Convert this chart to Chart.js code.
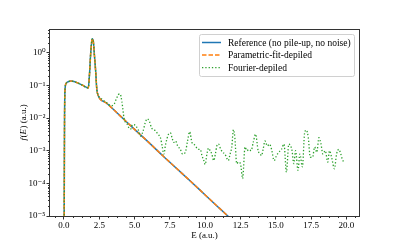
<!DOCTYPE html>
<html lang="en">
<head>
<meta charset="UTF-8" />
<title>Depiled spectrum f(E)</title>
<script src="https://cdn.jsdelivr.net/npm/chart.js"></script>
<style>
    * { margin: 0; padding: 0; box-sizing: border-box; }
    body { background: #fff; }
    .wrap { width: 399px; height: 247px; }
</style>
</head>
<body>
<div class="wrap"><canvas id="spectrum" width="399" height="247"></canvas></div>
<script>
// Reference spectrum (no pile-up, no noise)
const refE = [0.0, 0.04, 0.08, 0.15, 0.3, 0.5, 0.7, 1.0, 1.3, 1.6, 1.72, 1.8, 1.9, 2.0, 2.08, 2.15, 2.25, 2.32, 2.4,
              3, 4, 5, 6, 7, 8, 9, 10, 11, 12, 13];
const refF = [1e-7, 0.01, 0.08, 0.115, 0.13, 0.137, 0.132, 0.118, 0.102, 0.087, 0.084, 0.2, 1.1, 2.7, 2.2, 0.9, 0.25, 0.08, 0.052,
              0.029, 0.0115, 0.0045, 0.0018, 7e-4, 2.8e-4, 1.12e-4, 4.4e-5, 1.74e-5, 6.9e-6, 2.7e-6];

// Parametric fit (sits on top of the reference)
const fitE = [0.0, 0.04, 0.08, 0.15, 0.3, 0.5, 0.7, 1.0, 1.3, 1.6, 1.72, 1.8, 1.9, 2.0, 2.08, 2.15, 2.25, 2.32, 2.4,
              3, 4, 5, 6, 7, 8, 9, 10, 11, 12, 13];
const fitF = [1e-7, 0.01, 0.08, 0.115, 0.13, 0.137, 0.132, 0.118, 0.102, 0.087, 0.084, 0.2, 1.1, 2.7, 2.2, 0.9, 0.25, 0.08, 0.052,
              0.029, 0.0115, 0.0045, 0.0018, 7e-4, 2.8e-4, 1.12e-4, 4.4e-5, 1.74e-5, 6.9e-6, 2.7e-6];

// Fourier-depiled spectrum
const fourE = [0.0, 0.04, 0.08, 0.15, 0.3, 0.5, 0.7, 1.0, 1.3, 1.6, 1.72, 1.8, 1.9, 2.0, 2.08, 2.15, 2.25, 2.32, 2.4,
    2.5, 2.7, 2.9, 3.1, 3.3, 3.5, 3.7, 3.85, 3.97, 4.1, 4.25, 4.37, 4.48, 4.6, 4.72, 4.85, 4.95, 5.1, 5.25, 5.42,
    5.6, 5.75, 5.9, 6.05, 6.2, 6.35, 6.5, 6.65, 6.83, 6.95, 7.07, 7.2, 7.4, 7.54, 7.65, 7.77, 7.9, 8.05, 8.24, 8.4,
    8.59, 8.75, 8.9, 9.06, 9.2, 9.35, 9.5, 9.65, 9.77, 9.9, 10.0, 10.12, 10.24, 10.35, 10.47, 10.6, 10.72, 10.82,
    10.94, 11.1, 11.25, 11.4, 11.5, 11.64, 11.76, 11.88, 12.0, 12.1, 12.23, 12.35, 12.5, 12.65, 12.82, 12.95, 13.1,
    13.25, 13.4, 13.57, 13.75, 13.9, 13.99, 14.1, 14.23, 14.4, 14.55, 14.7, 14.88, 15.05, 15.2, 15.4, 15.58, 15.75,
    15.92, 16.05, 16.15, 16.27, 16.4, 16.57, 16.7, 16.88, 17.04, 17.16, 17.3, 17.44, 17.6, 17.75, 17.9, 18.05, 18.2,
    18.33, 18.5, 18.68, 18.8, 18.95, 19.15, 19.3, 19.46, 19.6, 19.7, 19.8];
const fourF = [1e-7, 0.01, 0.08, 0.115, 0.13, 0.137, 0.132, 0.118, 0.102, 0.087, 0.084, 0.2, 1.1, 2.7, 2.2, 0.9, 0.25, 0.08, 0.052,
    4.4e-2, 3.8e-2, 3.2e-2, 2.8e-2, 2.4e-2, 2.5e-2, 3.8e-2, 5.2e-2, 5.5e-2, 3.2e-2, 1.0e-2, 7.2e-3, 6.5e-3, 5.0e-3, 4.6e-3, 6.3e-3, 6.3e-3, 5.6e-3, 4.5e-3, 2.8e-3,
    4.0e-3, 7.1e-3, 9.5e-3, 7.9e-3, 5.0e-3, 4.5e-3, 4.0e-3, 3.2e-3, 2.5e-3, 1.4e-3, 7.9e-4, 1.6e-3, 3.2e-3, 3.5e-3, 2.5e-3, 1.8e-3, 2.0e-3, 1.4e-3, 1.1e-3, 7.9e-4,
    8.9e-4, 2.0e-3, 3.8e-3, 1.8e-3, 1.6e-3, 1.3e-3, 1.1e-3, 1.1e-3, 7.1e-4, 5.0e-4, 3.8e-4, 7.9e-4, 1.2e-3, 1.0e-3, 7.9e-4, 5.0e-4, 7.9e-4, 1.4e-3,
    1.6e-3, 1.1e-3, 8.9e-4, 7.9e-4, 6.3e-4, 5.0e-4, 7.9e-4, 1.3e-3, 4.4e-3, 2.5e-3, 4.0e-4, 4.5e-4, 4.0e-4, 1.4e-4, 1.3e-3, 1.0e-3, 1.1e-3,
    1.0e-3, 1.8e-3, 3.2e-3, 1.0e-3, 7.9e-4, 7.1e-4, 1.1e-3, 2.0e-3, 1.4e-3, 1.6e-3, 1.1e-3, 5.0e-4, 7.1e-4, 8.9e-4, 1.1e-3, 1.6e-3, 2.2e-4,
    1.6e-3, 1.4e-3, 1.0e-3, 4.0e-4, 1.0e-3, 2.5e-4, 7.9e-4, 3.2e-4, 3.5e-3, 4.3e-3, 2.5e-3, 6.3e-4, 6.3e-4, 1.3e-3, 8.9e-4, 2.5e-3, 1.6e-3,
    7.9e-4, 1.0e-3, 4.5e-4, 1.0e-3, 6.3e-4, 2.8e-4, 7.9e-4, 1.1e-3, 7.9e-4, 5.6e-4, 4.5e-4];

const xTicks = [0, 2.5, 5, 7.5, 10, 12.5, 15, 17.5, 20];
const yTicks = [1e-5, 1e-4, 1e-3, 1e-2, 1e-1, 1];

const seriesNames = ['Reference (no pile-up, no noise)', 'Parametric-fit-depiled', 'Fourier-depiled'];
const seriesColors = ['#1f77b4', '#ff7f0e', '#2ca02c'];
const seriesDash = [[], [4.5, 2], [1.3, 2]];

const SERIF = "'Liberation Serif', 'DejaVu Serif', serif";
Chart.defaults.font.family = SERIF;
Chart.defaults.font.size = 9;
Chart.defaults.color = '#000';

function pts(xs, ys) {
    return xs.map((x, i) => ({ x: x, y: ys[i] }));
}

const SUP = { '-': '\u207B', '0': '\u2070', '1': '\u00B9', '2': '\u00B2', '3': '\u00B3', '4': '\u2074', '5': '\u2075' };

// frame, minor ticks, y title and legend
const extras = {
    id: 'extras',
    afterDraw(chart) {
        const ctx = chart.ctx;
        const a = chart.chartArea;
        const x = chart.scales.x, y = chart.scales.y;
        ctx.save();

        ctx.strokeStyle = '#333';
        ctx.lineWidth = 1;
        ctx.beginPath();
        // minor ticks on x
        for (let v = -0.625; v <= x.max; v += 0.625) {
            if (v < x.min || Math.abs(v / 2.5 - Math.round(v / 2.5)) < 1e-6) continue;
            const px = Math.round(x.getPixelForValue(v)) + 0.5;
            ctx.moveTo(px, a.bottom);
            ctx.lineTo(px, a.bottom + 2);
        }
        // minor ticks on y
        for (let n = -5; n <= 0; n++) {
            for (let k = 2; k <= 9; k++) {
                const v = k * Math.pow(10, n);
                if (v > y.max) continue;
                const py = Math.round(y.getPixelForValue(v)) + 0.5;
                ctx.moveTo(a.left - 2, py);
                ctx.lineTo(a.left, py);
            }
        }
        ctx.stroke();

        // frame
        ctx.strokeRect(Math.round(a.left) - 0.5, Math.round(a.top) - 0.5,
                       Math.round(a.right - a.left) + 1, Math.round(a.bottom - a.top) + 1);

        // y axis title: f(E) (a.u.)
        const parts = [['f', 'italic'], ['(', 'normal'], ['E', 'italic'], [') (a.u.)', 'normal']];
        ctx.translate(24, (a.top + a.bottom) / 2);
        ctx.rotate(-Math.PI / 2);
        let total = 0;
        parts.forEach(p => { ctx.font = p[1] + ' 9px ' + SERIF; total += ctx.measureText(p[0]).width; });
        let cx = -total / 2;
        ctx.fillStyle = '#000';
        ctx.textBaseline = 'middle';
        parts.forEach(p => {
            ctx.font = p[1] + ' 9px ' + SERIF;
            ctx.fillText(p[0], cx, 0);
            cx += ctx.measureText(p[0]).width + (p[1] === 'italic' ? 0.6 : 0);
        });
        ctx.setTransform(1, 0, 0, 1, 0, 0);

        // legend
        const lx = 199.5, ly = 34.5, lw = 155, lh = 42;
        ctx.fillStyle = 'rgba(255,255,255,0.8)';
        ctx.strokeStyle = '#d0d0d0';
        ctx.lineWidth = 1;
        ctx.beginPath();
        ctx.roundRect(lx, ly, lw, lh, 2);
        ctx.fill();
        ctx.stroke();
        ctx.font = '9.5px ' + SERIF;
        ctx.textBaseline = 'middle';
        ctx.textAlign = 'left';
        seriesNames.forEach((name, i) => {
            const ry = 42.5 + i * 12.6;
            ctx.strokeStyle = seriesColors[i];
            ctx.lineWidth = i === 2 ? 1.3 : 1.5;
            ctx.setLineDash(seriesDash[i]);
            ctx.beginPath();
            ctx.moveTo(202, ry);
            ctx.lineTo(221, ry);
            ctx.stroke();
            ctx.setLineDash([]);
            ctx.fillStyle = '#000';
            ctx.fillText(name, 228, ry + 0.5);
        });
        ctx.restore();
    }
};

new Chart(document.getElementById('spectrum'), {
    type: 'line',
    data: {
        datasets: [
            {
                label: seriesNames[0],
                data: pts(refE, refF),
                borderColor: seriesColors[0],
                borderWidth: 1.5,
                pointRadius: 0,
                cubicInterpolationMode: 'monotone',
                order: 2
            },
            {
                label: seriesNames[1],
                data: pts(fitE, fitF),
                borderColor: seriesColors[1],
                borderWidth: 1.5,
                borderDash: seriesDash[1],
                pointRadius: 0,
                cubicInterpolationMode: 'monotone',
                order: 1
            },
            {
                label: seriesNames[2],
                data: pts(fourE, fourF),
                borderColor: seriesColors[2],
                borderWidth: 1.3,
                borderDash: seriesDash[2],
                pointRadius: 0,
                cubicInterpolationMode: 'monotone',
                order: 0
            }
        ]
    },
    options: {
        responsive: false,
        animation: false,
        devicePixelRatio: 1,
        layout: { padding: { left: 0, top: 30, right: 40, bottom: 0 } },
        plugins: {
            legend: { display: false },
            tooltip: { enabled: false }
        },
        scales: {
            x: {
                type: 'linear',
                min: -0.99,
                max: 20.89,
                afterBuildTicks: s => { s.ticks = xTicks.map(v => ({ value: v })); },
                afterFit: s => { s.height = 31; },
                ticks: {
                    padding: 1,
                    maxRotation: 0,
                    autoSkip: false,
                    callback: v => v.toFixed(1)
                },
                grid: { drawOnChartArea: false, tickLength: 3.5, tickColor: '#333', tickWidth: 1 },
                border: { display: false },
                title: { display: true, text: 'E (a.u.)', padding: { top: 0, bottom: 6 } }
            },
            y: {
                type: 'logarithmic',
                min: 1e-5,
                max: 5,
                afterBuildTicks: s => { s.ticks = yTicks.map(v => ({ value: v })); },
                afterFit: s => { s.width = 50; },
                ticks: {
                    padding: 1,
                    autoSkip: false,
                    callback: v => '10' + String(Math.round(Math.log10(v))).split('').map(c => SUP[c]).join('')
                },
                grid: { drawOnChartArea: false, tickLength: 3.5, tickColor: '#333', tickWidth: 1 },
                border: { display: false }
            }
        }
    },
    plugins: [extras]
});
</script>
</body>
</html>
